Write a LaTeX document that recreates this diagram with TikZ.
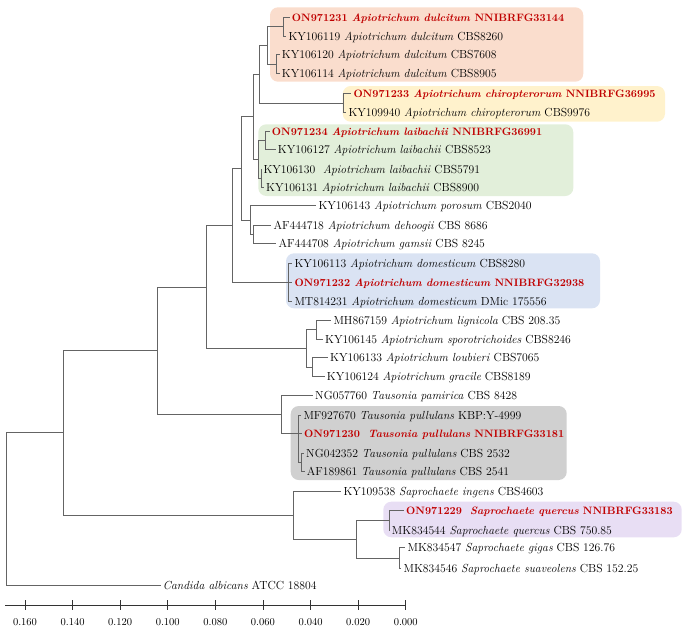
\documentclass[tikz,border=0pt]{standalone}
\usepackage{fontspec}
\begin{document}
\definecolor{redlab}{RGB}{192,0,0}
\definecolor{treeline}{RGB}{100,100,100}
\definecolor{bxpeach}{RGB}{250,221,205}
\definecolor{bxyellow}{RGB}{255,242,204}
\definecolor{bxgreen}{RGB}{226,239,218}
\definecolor{bxblue}{RGB}{218,227,243}
\definecolor{bxgrey}{RGB}{208,208,208}
\definecolor{bxlav}{RGB}{232,222,244}
\newcommand\hlab[1]{\textcolor{redlab}{\fontsize{10.7}{13}\selectfont\bfseries #1}}
\begin{tikzpicture}[x=1pt,y=-1pt,
  branch/.style={draw=treeline,line width=0.8pt},
  lab/.style={anchor=west,inner xsep=2pt,inner ysep=0pt,text height=8pt,text depth=0pt,font=\fontsize{11.7}{13}\selectfont},
  hbox/.style={rounded corners=8pt,draw=none},
  ticklab/.style={font=\fontsize{10.5}{12}\selectfont,inner sep=0pt}]
\useasboundingbox (0,0) rectangle (685,643);
% highlight boxes
\fill[hbox,bxpeach] (270,7.3) rectangle (583.3,81.7);
\fill[hbox,bxyellow] (342.7,86) rectangle (665,121.7);
\fill[hbox,bxgreen] (258.3,124.3) rectangle (573.3,196);
\fill[hbox,bxblue] (286,253.3) rectangle (600,308.3);
\fill[hbox,bxgrey] (290.7,406) rectangle (566.7,480);
\fill[hbox,bxlav] (383.3,501.7) rectangle (681.7,537.3);
% leaves
\node[lab] (l1) at (289.7,17) {\hlab{ON971231 \textit{Apiotrichum dulcitum} NNIBRFG33144}};
\node[lab] (l2) at (286.3,36) {KY106119 \textit{Apiotrichum dulcitum} CBS8260};
\node[lab] (l3) at (279.7,54.5) {KY106120 \textit{Apiotrichum dulcitum} CBS7608};
\node[lab] (l4) at (279.7,73.3) {KY106114 \textit{Apiotrichum dulcitum} CBS8905};
\node[lab] (l5) at (351.3,93.5) {\hlab{ON971233 \textit{Apiotrichum chiropterorum} NNIBRFG36995}};
\node[lab] (l6) at (346.3,112.3) {KY109940 \textit{Apiotrichum chiropterorum} CBS9976};
\node[lab] (l7) at (269.7,131.7) {\hlab{ON971234 \textit{Apiotrichum laibachii} NNIBRFG36991}};
\node[lab] (l8) at (275.7,149.5) {KY106127 \textit{Apiotrichum laibachii} CBS8523};
\node[lab] (l9) at (261.3,169.3) {KY106130\ \ \textit{Apiotrichum laibachii} CBS5791};
\node[lab] (l10) at (264,187.7) {KY106131 \textit{Apiotrichum laibachii} CBS8900};
\node[lab] (l11) at (316.3,205.7) {KY106143 \textit{Apiotrichum porosum} CBS2040};
\node[lab] (l12) at (271.3,225) {AF444718 \textit{Apiotrichum dehoogii} CBS 8686};
\node[lab] (l13) at (276.3,243.3) {AF444708 \textit{Apiotrichum gamsii} CBS 8245};
\node[lab] (l14) at (292.3,263.3) {KY106113 \textit{Apiotrichum domesticum} CBS8280};
\node[lab] (l15) at (292.3,282.5) {\hlab{ON971232 \textit{Apiotrichum domesticum} NNIBRFG32938}};
\node[lab] (l16) at (292.3,301.5) {MT814231 \textit{Apiotrichum domesticum} DMic 175556};
\node[lab] (l17) at (331.3,320) {MH867159 \textit{Apiotrichum lignicola} CBS 208.35};
\node[lab] (l18) at (323,339) {KY106145 \textit{Apiotrichum sporotrichoides} CBS8246};
\node[lab] (l19) at (328,357.7) {KY106133 \textit{Apiotrichum loubieri} CBS7065};
\node[lab] (l20) at (324.7,376.7) {KY106124 \textit{Apiotrichum gracile} CBS8189};
\node[lab] (l21) at (313,395) {NG057760 \textit{Tausonia pamirica} CBS 8428};
\node[lab] (l22) at (301.3,415) {MF927670 \textit{Tausonia pullulans} KBP:Y-4999};
\node[lab] (l23) at (302,433.3) {\hlab{ON971230\ \ \textit{Tausonia pullulans} NNIBRFG33181}};
\node[lab] (l24) at (304,453.3) {NG042352 \textit{Tausonia pullulans} CBS 2532};
\node[lab] (l25) at (304.7,471.7) {AF189861 \textit{Tausonia pullulans} CBS 2541};
\node[lab] (l26) at (341.3,491) {KY109538 \textit{Saprochaete ingens} CBS4603};
\node[lab] (l27) at (404,510) {\hlab{ON971229\ \ \textit{Saprochaete quercus} NNIBRFG33183}};
\node[lab] (l28) at (389.7,530) {MK834544 \textit{Saprochaete quercus} CBS 750.85};
\node[lab] (l29) at (405.3,547.5) {MK834547 \textit{Saprochaete gigas} CBS 126.76};
\node[lab] (l30) at (401.3,568.3) {MK834546 \textit{Saprochaete suaveolens} CBS 152.25};
\node[lab] (l31) at (160.7,585) {\textit{Candida albicans} ATCC 18804};
% internal nodes
\coordinate (S1) at (283.3,26.5);
\coordinate (S2) at (276,63.9);
\coordinate (DUL) at (267,45.2);
\coordinate (CHI) at (343.3,102.9);
\coordinate (U) at (259.3,74.05);
\coordinate (LA1) at (265,140.6);
\coordinate (LA2) at (261.7,178.5);
\coordinate (LAI) at (258.5,159.55);
\coordinate (P1) at (253.3,116.8);
\coordinate (H) at (253.3,234.15);
\coordinate (G) at (250,219.9);
\coordinate (F) at (241.5,168.35);
\coordinate (DOM) at (288.3,282.4);
\coordinate (E) at (232.3,225.4);
\coordinate (LG1) at (316.7,329.5);
\coordinate (LG2) at (312.7,367.2);
\coordinate (L) at (306.5,348.35);
\coordinate (D) at (206.7,286.9);
\coordinate (PU1) at (301.5,462.5);
\coordinate (PU) at (298.5,433);
\coordinate (T) at (281.7,414);
\coordinate (B) at (157.3,350.45);
\coordinate (SQ) at (389.3,520);
\coordinate (SG) at (399.3,557.9);
\coordinate (SB) at (356.7,538.95);
\coordinate (C) at (293.3,514.98);
\coordinate (A) at (63.3,432.7);
\coordinate (R) at (6,508.85);
% branches
\draw[branch] (S1) |- (l1.west);
\draw[branch] (S1) |- (l2.west);
\draw[branch] (S2) |- (l3.west);
\draw[branch] (S2) |- (l4.west);
\draw[branch] (DUL) |- (S1);
\draw[branch] (DUL) |- (S2);
\draw[branch] (CHI) |- (l5.west);
\draw[branch] (CHI) |- (l6.west);
\draw[branch] (U) |- (DUL);
\draw[branch] (U) |- (CHI);
\draw[branch] (LA1) |- (l7.west);
\draw[branch] (LA1) |- (l8.west);
\draw[branch] (LA2) |- (l9.west);
\draw[branch] (LA2) |- (l10.west);
\draw[branch] (LAI) |- (LA1);
\draw[branch] (LAI) |- (LA2);
\draw[branch] (P1) |- (U);
\draw[branch] (P1) |- (LAI);
\draw[branch] (H) |- (l12.west);
\draw[branch] (H) |- (l13.west);
\draw[branch] (G) |- (l11.west);
\draw[branch] (G) |- (H);
\draw[branch] (F) |- (P1);
\draw[branch] (F) |- (G);
\draw[branch] (DOM) |- (l14.west);
\draw[branch] (DOM) |- (l15.west);
\draw[branch] (DOM) |- (l16.west);
\draw[branch] (E) |- (F);
\draw[branch] (E) |- (DOM);
\draw[branch] (LG1) |- (l17.west);
\draw[branch] (LG1) |- (l18.west);
\draw[branch] (LG2) |- (l19.west);
\draw[branch] (LG2) |- (l20.west);
\draw[branch] (L) |- (LG1);
\draw[branch] (L) |- (LG2);
\draw[branch] (D) |- (E);
\draw[branch] (D) |- (L);
\draw[branch] (PU1) |- (l24.west);
\draw[branch] (PU1) |- (l25.west);
\draw[branch] (PU) |- (l22.west);
\draw[branch] (PU) |- (l23.west);
\draw[branch] (PU) |- (PU1);
\draw[branch] (T) |- (l21.west);
\draw[branch] (T) |- (PU);
\draw[branch] (B) |- (D);
\draw[branch] (B) |- (T);
\draw[branch] (SQ) |- (l27.west);
\draw[branch] (SQ) |- (l28.west);
\draw[branch] (SG) |- (l29.west);
\draw[branch] (SG) |- (l30.west);
\draw[branch] (SB) |- (SQ);
\draw[branch] (SB) |- (SG);
\draw[branch] (C) |- (l26.west);
\draw[branch] (C) |- (SB);
\draw[branch] (A) |- (B);
\draw[branch] (A) |- (C);
\draw[branch] (R) |- (A);
\draw[branch] (R) |- (l31.west);
% scale axis
\coordinate (ax0) at (5,605.7);
\coordinate (ax1) at (405.7,605.7);
\draw[line width=0.7pt,black!80] (ax0) -- (ax1);
\foreach \v [count=\i from 0] in {0.160,0.140,0.120,0.100,0.080,0.060,0.040,0.020,0.000}{
  \coordinate (tk\i) at ({25+47.59*\i},605.7);
  \draw[line width=0.7pt,black!80] ([yshift=5.5pt]tk\i) -- ([yshift=-4.5pt]tk\i);
  \node[ticklab] (tl\i) at ([yshift=-16.5pt]tk\i) {\v};
}
\end{tikzpicture}
\end{document}
